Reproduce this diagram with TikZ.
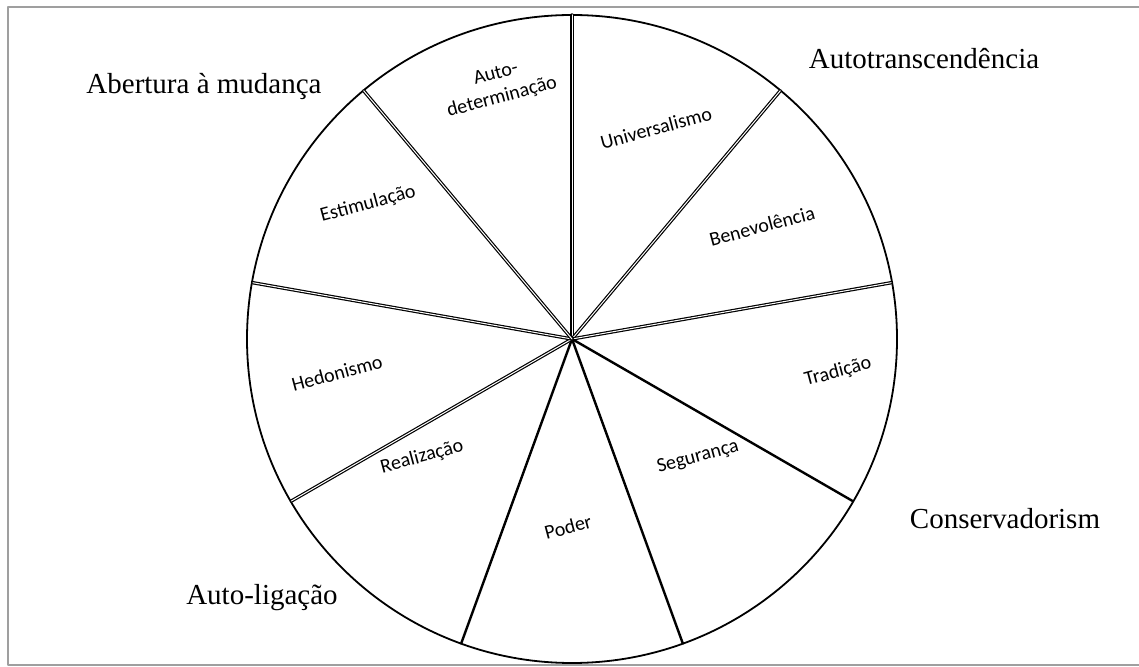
\documentclass[tikz,border=0pt]{standalone}
\usepackage{fontspec}
\setmainfont{Liberation Serif}
\newfontfamily\calibri{Carlito}
\usetikzlibrary{calc}
\tikzset{
  valor/.style={font=\calibri\fontsize{10}{12}\selectfont, rotate=15, align=center, inner sep=1pt},
  eixo/.style={font=\fontsize{14.5}{17}\selectfont, inner sep=0pt},
  raio/.style={line width=0.6pt, double=white, double distance=0.5pt},
  raiocheio/.style={line width=1.2pt},
}

\begin{document}
\begin{tikzpicture}[line cap=round,line join=round,x=0.5pt,y=-0.5pt]
\clip (0,0) rectangle (1139,667);
\draw [color=gray!75, line width=0.8pt] (8,7) rectangle (1160,665);
\coordinate (c) at (572,339);
\draw [line width=0.9pt] (c) ellipse [x radius=162.5pt, y radius=162pt];
% raios
\foreach \a/\s [count=\i] in {90/raio,50/raio,10/raio,-30/raiocheio,-70/raiocheio,-110/raiocheio,-150/raio,170/raio,130/raio}{
  \coordinate (p\i) at ($(c)+(\a:162pt)$);
  \draw [\s] (c) -- (p\i);
}
% valores
\node [valor] (autodet) at (499,86) {Auto-\\determinação};
\node [valor] (univ) at (656,128) {Universalismo};
\node [valor] (benev) at (762,226) {Benevolência};
\node [valor] (trad) at (838,372) {Tradição};
\node [valor] (seg) at (698,457) {Segurança};
\node [valor] (poder) at (568,527) {Poder};
\node [valor] (real) at (422,457) {Realização};
\node [valor] (hedon) at (337,373) {Hedonismo};
\node [valor] (estim) at (368,204) {Estimulação};
% dimensoes
\node [eixo] (abertura) at (204,87) {Abertura à mudança};
\node [eixo] (autotrans) at (924,59) {Autotranscendência};
\node [eixo] (conserv) at (1005,519) {Conservadorism};
\node [eixo] (ligacao) at (262,598) {Auto-ligação};
\end{tikzpicture}
\end{document}
